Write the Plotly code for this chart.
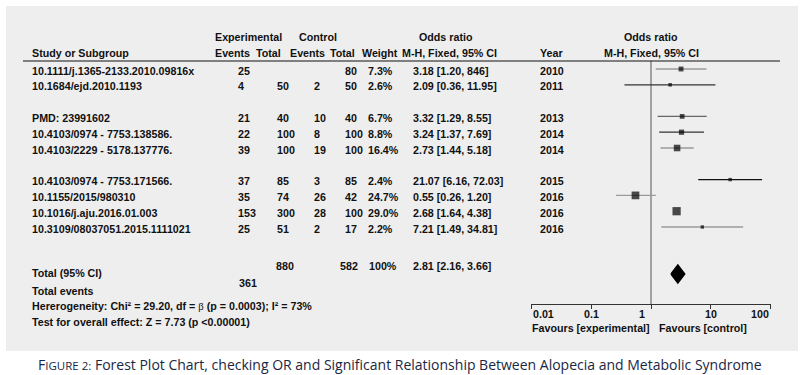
import math
import plotly.graph_objects as go

# ---------------- data ----------------
studies = [
    "10.1111/j.1365-2133.2010.09816x",
    "10.1684/ejd.2010.1193",
    "PMD: 23991602",
    "10.4103/0974 - 7753.138586.",
    "10.4103/2229 - 5178.137776.",
    "10.4103/0974 - 7753.171566.",
    "10.1155/2015/980310",
    "10.1016/j.aju.2016.01.003",
    "10.3109/08037051.2015.1111021",
]
exp_events = [25, 4, 21, 22, 39, 37, 35, 153, 25]
exp_total = [None, 50, 40, 100, 100, 85, 74, 300, 51]
ctrl_events = [None, 2, 10, 8, 19, 3, 26, 28, 2]
ctrl_total = [80, 50, 40, 100, 100, 85, 42, 100, 17]
weights = [7.3, 2.6, 6.7, 8.8, 16.4, 2.4, 24.7, 29.0, 2.2]
odds = [3.18, 2.09, 3.32, 3.24, 2.73, 21.07, 0.55, 2.68, 7.21]
ci_low = [1.20, 0.36, 1.29, 1.37, 1.44, 6.16, 0.26, 1.64, 1.49]
ci_high = [8.46, 11.95, 8.55, 7.69, 5.18, 72.03, 1.20, 4.38, 34.81]
ci_labels = [
    "3.18 [1.20, 846]", "2.09 [0.36, 11.95]", "3.32 [1.29, 8.55]",
    "3.24 [1.37, 7.69]", "2.73 [1.44, 5.18]", "21.07 [6.16, 72.03]",
    "0.55 [0.26, 1.20]", "2.68 [1.64, 4.38]", "7.21 [1.49, 34.81]",
]
years = [2010, 2011, 2013, 2014, 2014, 2015, 2016, 2016, 2016]
row_slots = [0, 1, 3, 4, 5, 7, 8, 9, 10]

total_exp = 880
total_ctrl = 582
total_weight = "100%"
total_events_exp = 361
pooled_or, pooled_lo, pooled_hi = 2.81, 2.16, 3.66
pooled_label = "2.81 [2.16, 3.66]"
axis_ticks = [0.01, 0.1, 1, 10, 100]
axis_tick_labels = ["0.01", "0.1", "1", "10", "100"]

# ---------------- styles / layout ----------------
W, H = 804, 375
X_ONE, DECADE = 651, 59.8
ROW0, ROW_H = 69, 15.8
FONT = "Liberation Sans, Arial, sans-serif"
FS = 10.7
TXT = "#111111"
BG = "#eeeeee"
ci_colors = ["#9a9a9a", "#333333", "#666666", "#333333", "#9a9a9a",
             "#111111", "#9a9a9a", "rgba(0,0,0,0)", "#9a9a9a"]

row_y = [ROW0 + ROW_H * s for s in row_slots]
TEXT_SHIFT = 1.5  # text sits a little lower than markers

fig = go.Figure()
ann = []


def txt(xpx, ypx, s, anchor="left", size=FS, bold=True, color=TXT, font=FONT):
    ann.append(dict(
        x=xpx / W, xref="paper", y=ypx, yref="y",
        text=("<b>%s</b>" % s) if bold else s,
        showarrow=False, xanchor=anchor, yanchor="middle",
        font=dict(family=font, size=size, color=color),
    ))


# header
txt(248, 37, "Experimental", "center")
txt(318, 37, "Control", "center")
txt(446, 37, "Odds ratio", "center")
txt(651, 37, "Odds ratio", "center")
txt(30, 53, "Study or Subgroup")
txt(232, 53, "Events", "center")
txt(268, 53, "Total", "center")
txt(307, 53, "Events", "center")
txt(342, 53, "Total", "center")
txt(380, 53, "Weight", "center")
txt(450, 53, "M-H, Fixed, 95% CI", "center")
txt(538, 53, "Year")
txt(651, 53, "M-H, Fixed, 95% CI", "center")

# rows
for i, yv in enumerate(row_y):
    ty = yv + TEXT_SHIFT
    txt(30, ty, studies[i])
    txt(236, ty, str(exp_events[i]))
    if exp_total[i] is not None:
        txt(275, ty, str(exp_total[i]))
    if ctrl_events[i] is not None:
        txt(312, ty, str(ctrl_events[i]))
    txt(343, ty, str(ctrl_total[i]))
    txt(366, ty, "%.1f%%" % weights[i])
    txt(411, ty, ci_labels[i])
    txt(538, ty, str(years[i]))

# totals
txt(30, 273, "Total (95% CI)")
txt(274, 266, str(total_exp))
txt(338, 266, str(total_ctrl))
txt(367, 266, total_weight)
txt(411, 266, pooled_label)
txt(237, 283, str(total_events_exp))
txt(30, 291, "Total events")
txt(30, 306, "Hererogeneity: Chi² = 29.20, df = "
    "<span style='font-family:Liberation Serif;font-weight:normal'>β</span>"
    " (p = 0.0003); I² = 73%")
txt(30, 322, "Test for overall effect: Z = 7.73 (p &lt;0.00001)")

# axis tick labels and favours
for v, lab in zip(axis_ticks, axis_tick_labels):
    anchor = "left" if v == axis_ticks[0] else ("right" if v == axis_ticks[-1] else "center")
    ann.append(dict(x=math.log10(v), xref="x", y=314, yref="y", text="<b>%s</b>" % lab,
                    showarrow=False, xanchor=anchor, yanchor="middle",
                    xshift=(-9 if v == 1 else 0),
                    font=dict(family=FONT, size=FS, color=TXT)))
ann.append(dict(x=0, xref="x", y=328, yref="y", text="<b>Favours [experimental]</b>",
                showarrow=False, xanchor="right", yanchor="middle", xshift=1,
                font=dict(family=FONT, size=FS, color=TXT)))
ann.append(dict(x=0, xref="x", y=328, yref="y", text="<b>Favours [control]</b>",
                showarrow=False, xanchor="left", yanchor="middle", xshift=6,
                font=dict(family=FONT, size=FS, color=TXT)))

# caption
ann.append(dict(x=400 / W, xref="paper", y=364, yref="y",
                text="F<span style='font-size:11.5px'>IGURE 2:</span> Forest Plot Chart, checking OR and Significant Relationship Between Alopecia and Metabolic Syndrome",
                showarrow=False, xanchor="center", yanchor="middle",
                font=dict(family="Open Sans, Noto Sans, sans-serif", size=14, color="#1a2744")))

# ---------------- marks ----------------
# vertical line of no effect
fig.add_trace(go.Scatter(x=[1, 1], y=[61, 304], mode="lines",
                         line=dict(color="#555555", width=1), hoverinfo="skip", showlegend=False))
# CI lines
for i, yv in enumerate(row_y):
    fig.add_trace(go.Scatter(x=[ci_low[i], ci_high[i]], y=[yv, yv], mode="lines",
                             line=dict(color=ci_colors[i], width=1.3),
                             hoverinfo="skip", showlegend=False))
# squares
fig.add_trace(go.Scatter(x=odds, y=row_y, mode="markers",
                         marker=dict(symbol="square", color="#000000",
                                     size=[1.25 * math.sqrt(w) + 1.5 for w in weights],
                                     line=dict(width=0)),
                         hoverinfo="skip", showlegend=False, cliponaxis=False))
# pooled diamond
yc = 274
fig.add_trace(go.Scatter(x=[pooled_lo, pooled_or, pooled_hi, pooled_or, pooled_lo],
                         y=[yc, yc - 9, yc, yc + 9, yc], mode="lines", fill="toself",
                         fillcolor="#000000", line=dict(color="#000000", width=1.5),
                         hoverinfo="skip", showlegend=False))

shapes = [
    dict(type="rect", xref="paper", yref="y", x0=6 / W, x1=798 / W, y0=6, y1=351,
         fillcolor=BG, line=dict(width=0), layer="below"),
    dict(type="line", xref="paper", yref="y", x0=23 / W, x1=780 / W, y0=61, y1=61,
         line=dict(color="#111111", width=1.2)),
]

x_dom = [(X_ONE - 2 * DECADE) / W, (X_ONE + 2 * DECADE) / W]
fig.update_layout(
    width=W, height=H, margin=dict(l=0, r=0, t=0, b=0),
    paper_bgcolor="white", plot_bgcolor="rgba(0,0,0,0)",
    xaxis=dict(type="log", range=[-2, 2], domain=x_dom, anchor="free",
               position=1 - 304 / H, showline=True, linecolor="#333333", linewidth=1,
               ticks="outside", ticklen=4, tickcolor="#333333", tickvals=axis_ticks,
               showticklabels=False, showgrid=False, zeroline=False, fixedrange=True),
    yaxis=dict(range=[H, 0], domain=[0, 1], visible=False, fixedrange=True),
    shapes=shapes, annotations=ann, showlegend=False,
)
fig.write_html("out.html", config={"displayModeBar": False},
               post_script="document.body.style.margin='0';document.body.style.overflow='hidden';")
